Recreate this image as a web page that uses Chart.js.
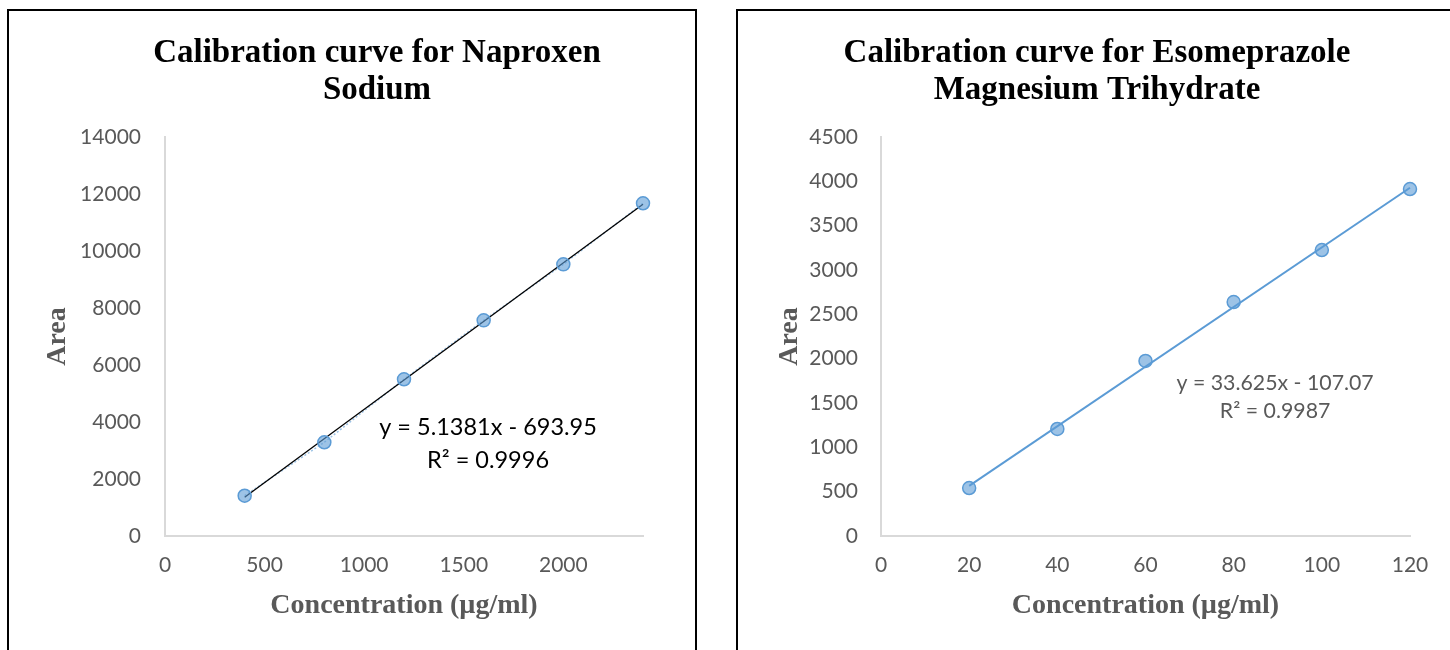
<!DOCTYPE html>
<html>
<head>
<meta charset="utf-8">
<script src="https://cdn.jsdelivr.net/npm/chart.js@4.4.1/dist/chart.umd.min.js"></script>
<style>
html,body{margin:0;padding:0;background:#fff;width:1450px;height:650px;overflow:hidden;}
.box{position:absolute;border:2px solid #000;border-bottom:none;background:#fff;}
#b1{left:7px;top:9px;width:686px;height:660px;}
#b2{left:736px;top:9px;width:760px;height:660px;}
.holder{position:absolute;top:0;height:650px;}
#h1{left:0;width:720px;}
#h2{left:720px;width:730px;}
canvas{display:block;}
</style>
</head>
<body>
<div class="box" id="b1"></div>
<div class="box" id="b2"></div>
<div class="holder" id="h1"><canvas id="c1" width="720" height="650"></canvas></div>
<div class="holder" id="h2"><canvas id="c2" width="730" height="650"></canvas></div>
<script>
// ---- Naproxen Sodium ----
const naproxenTitle = ['Calibration curve for Naproxen', 'Sodium'];
const naproxenConc = [400, 800, 1200, 1600, 2000, 2400];
const naproxenArea = [1414, 3288, 5498, 7568, 9533, 11674];
const naproxenTrendX = [400, 2400];
const naproxenTrendY = [1361.3, 11637.5];
const naproxenXTicks = [0, 500, 1000, 1500, 2000];
const naproxenYTicks = [0, 2000, 4000, 6000, 8000, 10000, 12000, 14000];
const naproxenEquation = ['y = 5.1381x - 693.95', 'R² = 0.9996'];

// ---- Esomeprazole Magnesium Trihydrate ----
const esoTitle = ['Calibration curve for Esomeprazole', 'Magnesium Trihydrate'];
const esoConc = [20, 40, 60, 80, 100, 120];
const esoArea = [541, 1207, 1974, 2639, 3225, 3913];
const esoTrendX = [20, 120];
const esoTrendY = [565.4, 3927.9];
const esoXTicks = [0, 20, 40, 60, 80, 100, 120];
const esoYTicks = [0, 500, 1000, 1500, 2000, 2500, 3000, 3500, 4000, 4500];
const esoEquation = ['y = 33.625x - 107.07', 'R² = 0.9987'];

const xTitleText = 'Concentration (µg/ml)';
const yTitleText = 'Area';

const GRAY = '#595959';
const AXIS = '#d9d9d9';
const BLUE = '#5B9BD5';

function pts(xs, ys){ return xs.map((x,i)=>({x:x, y:ys[i]})); }

function textPlugin(cfg){
  return {
    id: 'texts_' + cfg.id,
    afterDraw(chart){
      const ctx = chart.ctx;
      ctx.save();
      ctx.textAlign = 'center';
      ctx.textBaseline = 'alphabetic';
      ctx.fillStyle = '#000';
      ctx.font = 'bold 33px "Liberation Serif", "Times New Roman", serif';
      cfg.title.forEach((t,i)=>ctx.fillText(t, cfg.titleX, cfg.titleY + i*37));
      const ex = chart.scales.x.getPixelForValue(cfg.eqAt[0]);
      const ey = chart.scales.y.getPixelForValue(cfg.eqAt[1]);
      ctx.font = cfg.eqFont;
      ctx.fillStyle = cfg.eqColor;
      ctx.textBaseline = 'middle';
      cfg.eq.forEach((t,i)=>ctx.fillText(t, ex, ey + i*cfg.eqLH));
      ctx.restore();
    }
  };
}

function makeChart(canvasId, cfg){
  const datasets = [];
  if (cfg.seriesLine) {
    datasets.push({
      type:'scatter', data: pts(cfg.x, cfg.y), showLine:true,
      borderColor:'#9DC3E6', borderWidth:1.5, borderDash:[2,2],
      pointRadius:0, order:3, clip:false
    });
  }
  datasets.push({
    type:'scatter', data: pts(cfg.tx, cfg.ty), showLine:true,
    borderColor: cfg.trendColor, borderWidth: cfg.trendWidth,
    pointRadius:0, order:2, clip:false
  });
  datasets.push({
    type:'scatter', data: pts(cfg.x, cfg.y), showLine:false,
    pointRadius:6.5, pointBackgroundColor:'rgba(91,155,213,0.6)',
    pointBorderColor: BLUE, pointBorderWidth:1.5, order:1, clip:false
  });
  return new Chart(document.getElementById(canvasId), {
    type:'scatter',
    data:{datasets: datasets},
    plugins:[textPlugin(cfg)],
    options:{
      responsive:false, animation:false, devicePixelRatio:1,
      layout:{padding:{top:137, right:cfg.padRight, bottom:0, left:0}},
      plugins:{legend:{display:false}, tooltip:{enabled:false}, title:{display:false}},
      scales:{
        x:{
          type:'linear', min:0, max:cfg.xMax,
          afterBuildTicks: s => { s.ticks = cfg.xTicks.map(v=>({value:v})); },
          afterFit: s => { s.height = 114; },
          grid:{display:false, drawTicks:false},
          border:{display:true, color:AXIS, width:2},
          ticks:{color:GRAY, font:{family:'Lato', size:21}, padding:17, maxRotation:0, autoSkip:false,
                 callback: v => String(v)},
          title:{display:true, text:xTitleText, color:GRAY,
                 font:{family:'"Liberation Serif", "Times New Roman", serif', weight:'bold', size:28},
                 padding:{top:0, bottom:27}}
        },
        y:{
          type:'linear', min:0, max:cfg.yMax,
          afterBuildTicks: s => { s.ticks = cfg.yTicks.map(v=>({value:v})); },
          afterFit: s => { s.width = cfg.yWidth; },
          grid:{display:false, drawTicks:false},
          border:{display:true, color:AXIS, width:2},
          ticks:{color:GRAY, font:{family:'Lato', size:21}, padding:cfg.yPad, autoSkip:false,
                 callback: v => String(v)},
          title:{display:true, text:yTitleText, color:GRAY,
                 font:{family:'"Liberation Serif", "Times New Roman", serif', weight:'bold', size:28},
                 padding:{top:cfg.yTitlePad, bottom:0}}
        }
      }
    }
  });
}

makeChart('c1', {
  id:'nap', title:naproxenTitle, titleX:377, titleY:62,
  x:naproxenConc, y:naproxenArea, tx:naproxenTrendX, ty:naproxenTrendY,
  xTicks:naproxenXTicks, yTicks:naproxenYTicks, xMax:2400, yMax:14000,
  padRight:77, yWidth:165, yPad:24, yTitlePad:41,
  seriesLine:true, trendColor:'#000', trendWidth:1.3,
  eq:naproxenEquation, eqAt:[1622, 3825], eqLH:33,
  eqFont:'23.5px Lato', eqColor:'#000'
});

makeChart('c2', {
  id:'eso', title:esoTitle, titleX:377, titleY:62,
  x:esoConc, y:esoArea, tx:esoTrendX, ty:esoTrendY,
  xTicks:esoXTicks, yTicks:esoYTicks, xMax:120, yMax:4500,
  padRight:40, yWidth:161, yPad:23, yTitlePad:53,
  seriesLine:false, trendColor:BLUE, trendWidth:2,
  eq:esoEquation, eqAt:[89.4, 1726], eqLH:28,
  eqFont:'21.3px Lato', eqColor:GRAY
});
</script>
</body>
</html>
